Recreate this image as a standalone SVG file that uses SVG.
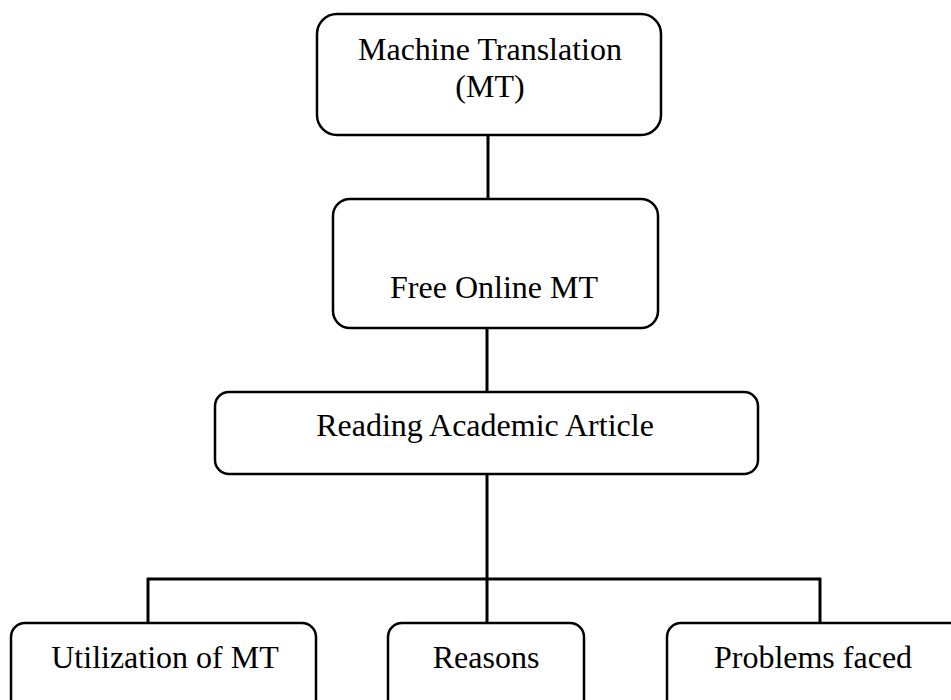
<svg xmlns="http://www.w3.org/2000/svg" width="951" height="700" viewBox="0 0 951 700">
<style>
.box{fill:#fff;stroke:#000;stroke-width:2.5}
.lbl{font-family:"Liberation Serif","Times New Roman",serif;font-size:32px;fill:#000;text-anchor:middle}
.conn{stroke:#000;stroke-width:3;fill:none}
</style>
<rect width="951" height="700" fill="#fff"/>
<g id="connectors">
<line class="conn" x1="488" y1="135" x2="488" y2="199"/>
<line class="conn" x1="487" y1="328" x2="487" y2="392"/>
<line class="conn" x1="487" y1="474" x2="487" y2="623"/>
<line class="conn" x1="147" y1="579" x2="821" y2="579"/>
<line class="conn" x1="148" y1="578" x2="148" y2="623"/>
<line class="conn" x1="820" y1="578" x2="820" y2="622"/>
</g>
<g id="n1">
<rect class="box" x="317" y="14" width="344" height="121" rx="20"/>
<text class="lbl" x="490" y="60">Machine Translation</text>
<text class="lbl" x="490" y="97">(MT)</text>
</g>
<g id="n2">
<rect class="box" x="333" y="199" width="325" height="129" rx="17"/>
<text class="lbl" x="494" y="298">Free Online MT</text>
</g>
<g id="n3">
<rect class="box" x="215" y="392" width="543" height="82" rx="14"/>
<text class="lbl" x="485" y="436">Reading Academic Article</text>
</g>
<g id="n4">
<rect class="box" x="11" y="623" width="305" height="100" rx="14"/>
<text class="lbl" x="165" y="668">Utilization of MT</text>
</g>
<g id="n5">
<rect class="box" x="388" y="623" width="196" height="100" rx="14"/>
<text class="lbl" x="486" y="668">Reasons</text>
</g>
<g id="n6">
<rect class="box" x="667" y="623" width="300" height="100" rx="14"/>
<text class="lbl" x="813" y="668">Problems faced</text>
</g>
</svg>
